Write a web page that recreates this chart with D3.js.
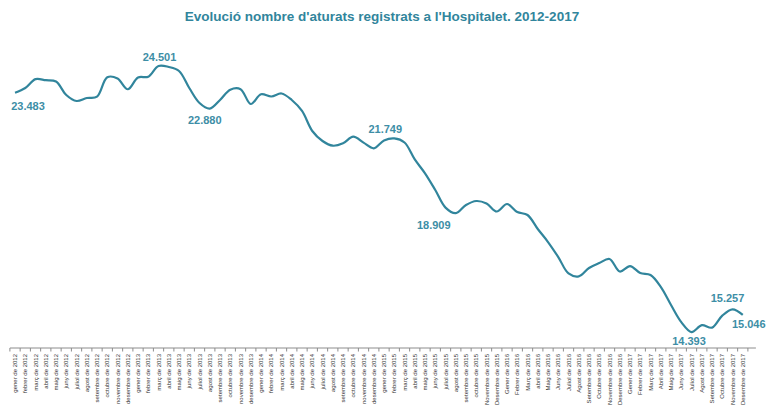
<!DOCTYPE html>
<html>
<head>
<meta charset="utf-8">
<script src="https://cdn.jsdelivr.net/npm/d3@7"></script>
<style>
  body { margin: 0; background: #fff; }
  svg { display: block; font-family: "Liberation Sans", Arial, sans-serif; }
</style>
</head>
<body>
<svg class="chart" width="776" height="418"></svg>
<script>
const months = [
  "gener de 2012", "febrer de 2012", "març de 2012", "abril de 2012", "maig de 2012", "juny de 2012",
  "juliol de 2012", "agost de 2012", "setembre de 2012", "octubre de 2012", "novembre de 2012", "desembre de 2012",
  "gener de 2013", "febrer de 2013", "març de 2013", "abril de 2013", "maig de 2013", "juny de 2013",
  "juliol de 2013", "agost de 2013", "setembre de 2013", "octubre de 2013", "novembre de 2013", "desembre de 2013",
  "gener de 2014", "febrer de 2014", "març de 2014", "abril de 2014", "maig de 2014", "juny de 2014",
  "juliol de 2014", "agost de 2014", "setembre de 2014", "octubre de 2014", "novembre de 2014", "desembre de 2014",
  "gener de 2015", "febrer de 2015", "març de 2015", "abril de 2015", "maig de 2015", "juny de 2015",
  "juliol de 2015", "agost de 2015", "setembre de 2015", "octubre de 2015", "Novembre de 2015", "Desembre de 2015",
  "Gener de 2016", "Febrer de 2016", "Març de 2016", "abril de 2016", "Maig de 2016", "Juny de 2016",
  "Juliol de 2016", "Agost de 2016", "Setembre de 2016", "Octubre de 2016", "Novembre de 2016", "Desembre de 2016",
  "Gener de 2017", "Febrer de 2017", "Març de 2017", "Abril de 2017", "Maig de 2017", "Juny de 2017",
  "Juliol de 2017", "Agost de 2017", "Setembre de 2017", "Octubre de 2017", "Novembre de 2017", "Desembre de 2017"
];

const aturats = [
  23483, 23665, 24000, 23960, 23910, 23399, 23171, 23285, 23334, 24071, 24026, 23616,
  24064, 24094, 24501, 24463, 24311, 23665, 23095, 22880, 23209, 23600, 23620, 23057,
  23425, 23342, 23456, 23209, 22791, 22031, 21651, 21472, 21563, 21815, 21588, 21374,
  21670, 21749, 21594, 20950, 20423, 19789, 19120, 18909, 19219, 19371, 19276, 18972,
  19257, 18953, 18839, 18307, 17813, 17243, 16620, 16510, 16825, 17015, 17167, 16692,
  16901, 16635, 16559, 16107, 15419, 14771, 14393, 14656, 14561, 15017, 15257, 15046
];

// months that carry a value label
const labelled = [0, 14, 19, 37, 43, 66, 70, 71];

const title = "Evolució nombre d'aturats registrats a l'Hospitalet. 2012-2017";

const teal = "#31859c";
const labelOffset = {
  0: [13, 17], 14: [1, -4.5], 19: [-5, 15], 37: [-9, -5.5],
  43: [-22, 16], 66: [-2.5, 13], 70: [-5, -7], 71: [6, 13]
};

const svg = d3.select(".chart");
const axisY = 348;

const x = d3.scaleBand()
  .domain(months)
  .range([9.9, 9.9 + 72 * 10.25])
  .paddingInner(0);

const y = d3.scaleLinear()
  .domain([14000, 24500])
  .range([342.4, 66]);

const ca = d3.formatLocale({ decimal: ",", thousands: ".", grouping: [3], currency: ["", "€"] });
const fmt = ca.format(",d");

const cx = function(d, i) { return x(months[i]) + x.bandwidth() / 2; };

svg.append("text")
  .attr("x", 382)
  .attr("y", 20.5)
  .attr("text-anchor", "middle")
  .attr("font-size", "13.5px")
  .attr("font-weight", "bold")
  .attr("fill", teal)
  .text(title);

// category axis, ticks between months
const axis = svg.append("g").attr("transform", "translate(0," + axisY + ")");
axis.append("line")
  .attr("x1", x.range()[0]).attr("x2", x.range()[1] + 8)
  .attr("stroke", "#8c8c8c").attr("stroke-width", 1);

axis.selectAll(".tick")
  .data(months.concat(["end"]))
  .enter().append("line")
    .attr("class", "tick")
    .attr("x1", function(d, i) { return x.range()[0] + i * x.step(); })
    .attr("x2", function(d, i) { return x.range()[0] + i * x.step(); })
    .attr("y1", 0).attr("y2", 3.5)
    .attr("stroke", "#8c8c8c");

axis.selectAll(".mlabel")
  .data(months)
  .enter().append("text")
    .attr("class", "mlabel")
    .attr("transform", function(d) {
      return "translate(" + (x(d) + x.bandwidth() / 2 + 2.2) + ",6) rotate(-90)";
    })
    .attr("text-anchor", "end")
    .attr("font-size", "6px")
    .attr("fill", "#333")
    .text(function(d) { return d; });

const line = d3.line()
  .x(cx)
  .y(function(d) { return y(d); })
  .curve(d3.curveCatmullRom.alpha(0.5));

svg.append("path")
  .datum(aturats)
  .attr("fill", "none")
  .attr("stroke", teal)
  .attr("stroke-width", 2.2)
  .attr("stroke-linejoin", "round")
  .attr("d", line);

svg.selectAll(".vlabel")
  .data(labelled)
  .enter().append("text")
    .attr("class", "vlabel")
    .attr("x", function(i) { return cx(null, i) + labelOffset[i][0]; })
    .attr("y", function(i) { return y(aturats[i]) + labelOffset[i][1]; })
    .attr("text-anchor", "middle")
    .attr("font-size", "11px")
    .attr("font-weight", "bold")
    .attr("fill", "#3d8ea6")
    .text(function(i) { return fmt(aturats[i]); });
</script>
</body>
</html>
